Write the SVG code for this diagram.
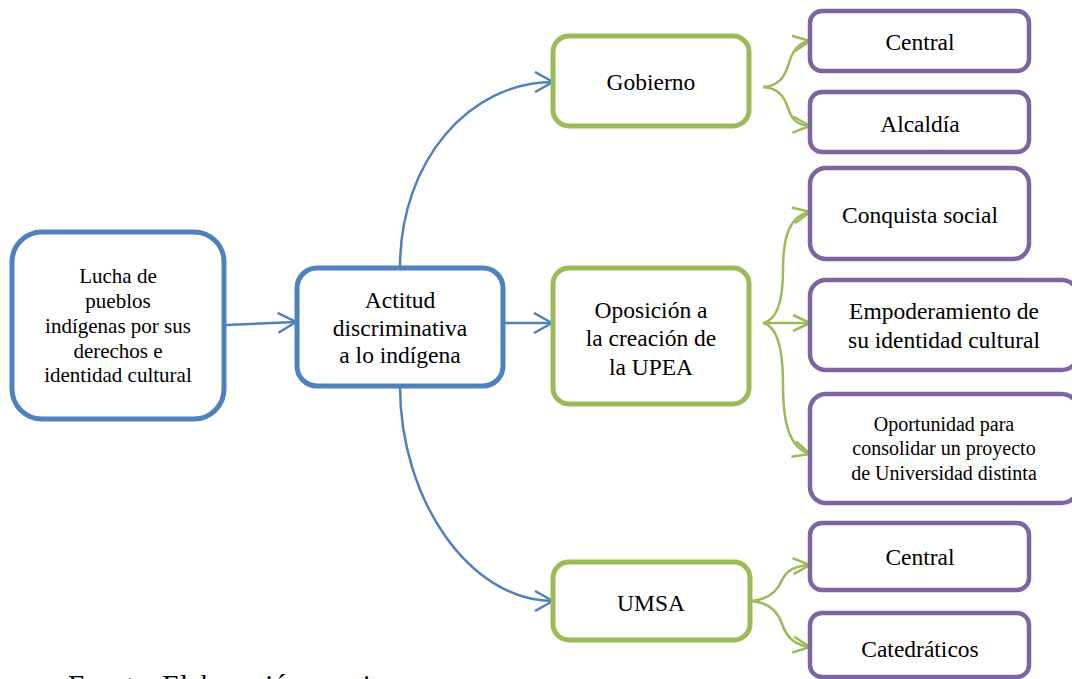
<svg xmlns="http://www.w3.org/2000/svg" width="1072" height="679" viewBox="0 0 1072 679">
<style>
  text { font-family: 'Liberation Serif', 'DejaVu Serif', serif; fill: #000; text-anchor: middle; }
  .blue { fill: #fff; stroke: #4F81BD; stroke-width: 5; }
  .green { fill: #fff; stroke: #9BBB59; stroke-width: 5; }
  .purple { fill: #fff; stroke: #8064A2; stroke-width: 4.5; }
  .cb { fill: none; stroke: #4F81BD; stroke-width: 2.5; marker-end: url(#ab); }
  .cg { fill: none; stroke: #9BBB59; stroke-width: 2.5; marker-end: url(#ag); }
  .f21 { font-size: 21px; }
  .f20 { font-size: 20px; }
  .f24 { font-size: 23.5px; }
</style>
<defs>
  <marker id="ab" viewBox="0 0 20 22" refX="19" refY="11" markerWidth="20" markerHeight="22" markerUnits="userSpaceOnUse" orient="auto">
    <path d="M1,1 L19,11 L1,21" fill="none" stroke="#4F81BD" stroke-width="2.5"/>
  </marker>
  <marker id="ag" viewBox="0 0 20 20" refX="18" refY="10" markerWidth="20" markerHeight="20" markerUnits="userSpaceOnUse" orient="auto">
    <path d="M1,2 L18,10 L1,18" fill="none" stroke="#9BBB59" stroke-width="2.5"/>
  </marker>
</defs>

<g id="connectors">
  <path class="cb" d="M226,325 L296,322"/>
  <path class="cb" d="M400,268 C400,160 470,82 553,82"/>
  <path class="cb" d="M503,323 L552,323"/>
  <path class="cb" d="M400,386 C400,500 470,601 553,601"/>
  <path class="cg" d="M763,87 C778,86 784,78 788,66 C792,52 797,43 810,41"/>
  <path class="cg" d="M763,87 C778,88 784,96 788,108 C792,120 797,125 810,126"/>
  <path class="cg" d="M763,323 C778,320 783,300 783,270 C783,235 790,216 810,212"/>
  <path class="cg" d="M763,323 L810,323"/>
  <path class="cg" d="M763,323 C778,326 783,350 783,385 C783,425 790,448 810,454"/>
  <path class="cg" d="M752,601 C770,599 778,590 782,580 C787,570 795,566 810,565"/>
  <path class="cg" d="M752,601 C770,603 778,612 782,624 C787,638 795,645 810,647"/>
</g>

<g id="n-lucha" font-family="Liberation Serif, serif">
  <rect class="blue" x="12" y="232" width="212" height="187" rx="30"/>
  <text class="f21" x="118" y="283">Lucha de</text>
  <text class="f21" x="118" y="308">pueblos</text>
  <text class="f21" x="118" y="333">indígenas por sus</text>
  <text class="f21" x="118" y="358">derechos e</text>
  <text class="f21" x="118" y="382">identidad cultural</text>
</g>

<g id="n-actitud">
  <rect class="blue" x="297" y="268" width="206" height="118" rx="20"/>
  <text class="f24" x="400" y="308">Actitud</text>
  <text class="f24" x="400" y="336">discriminativa</text>
  <text class="f24" x="400" y="363">a lo indígena</text>
</g>

<g id="n-gobierno">
  <rect class="green" x="553" y="36" width="196" height="90" rx="16"/>
  <text class="f24" x="651" y="90">Gobierno</text>
</g>

<g id="n-oposicion">
  <rect class="green" x="553" y="268" width="196" height="136" rx="16"/>
  <text class="f24" x="651" y="318">Oposición a</text>
  <text class="f24" x="651" y="346">la creación de</text>
  <text class="f24" x="651" y="375">la UPEA</text>
</g>

<g id="n-umsa">
  <rect class="green" x="553" y="562" width="197" height="78" rx="16"/>
  <text class="f24" x="651" y="611">UMSA</text>
</g>

<g id="n-central1">
  <rect class="purple" x="810" y="11" width="219" height="60" rx="12"/>
  <text class="f24" x="920" y="50">Central</text>
</g>

<g id="n-alcaldia">
  <rect class="purple" x="810" y="92" width="219" height="60" rx="12"/>
  <text class="f24" x="920" y="132">Alcaldía</text>
</g>

<g id="n-conquista">
  <rect class="purple" x="810" y="168" width="219" height="91" rx="16"/>
  <text class="f24" x="920" y="223">Conquista social</text>
</g>

<g id="n-empoderamiento">
  <rect class="purple" x="810" y="280" width="268" height="90" rx="16"/>
  <text class="f24" x="944" y="319">Empoderamiento de</text>
  <text class="f24" x="944" y="348">su identidad cultural</text>
</g>

<g id="n-oportunidad">
  <rect class="purple" x="810" y="394" width="268" height="109" rx="16"/>
  <text class="f20" x="944" y="431">Oportunidad para</text>
  <text class="f20" x="944" y="455">consolidar un proyecto</text>
  <text class="f20" x="944" y="480">de Universidad distinta</text>
</g>

<g id="n-central2">
  <rect class="purple" x="810" y="523" width="219" height="67" rx="12"/>
  <text class="f24" x="920" y="565">Central</text>
</g>

<g id="n-catedraticos">
  <rect class="purple" x="810" y="613" width="219" height="64" rx="12"/>
  <text class="f24" x="920" y="657">Catedráticos</text>
</g>

<text x="68" y="695" style="font-size:29px; text-anchor:start">Fuente: Elaboración propia</text>
</svg>
